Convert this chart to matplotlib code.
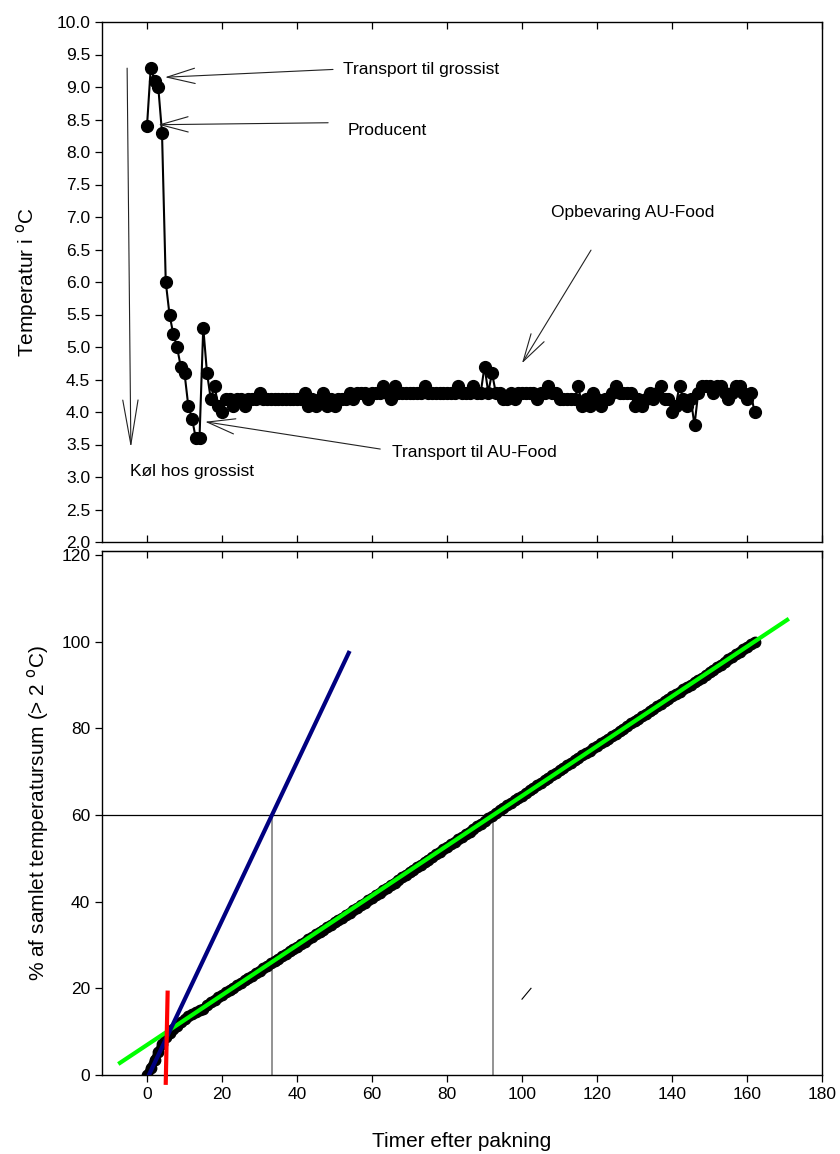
import numpy as np
import matplotlib
matplotlib.use("Agg")
import matplotlib.pyplot as plt

plt.rcParams['font.family'] = ['Liberation Sans', 'DejaVu Sans']

# ---- data ----
hours = list(range(0, 163))
temperature = [
    8.4, 9.3, 9.1, 9.0, 8.3, 6.0, 5.5, 5.2, 5.0, 4.7,
    4.6, 4.1, 3.9, 3.6, 3.6, 5.3, 4.6, 4.2, 4.4, 4.1,
    4.0, 4.2, 4.2, 4.1, 4.2, 4.2, 4.1, 4.2, 4.2, 4.2,
    4.3, 4.2, 4.2, 4.2, 4.2, 4.2, 4.2, 4.2, 4.2, 4.2,
    4.2, 4.2, 4.3, 4.1, 4.2, 4.1, 4.2, 4.3, 4.1, 4.2,
    4.1, 4.2, 4.2, 4.2, 4.3, 4.2, 4.3, 4.3, 4.3, 4.2,
    4.3, 4.3, 4.3, 4.4, 4.3, 4.2, 4.4, 4.3, 4.3, 4.3,
    4.3, 4.3, 4.3, 4.3, 4.4, 4.3, 4.3, 4.3, 4.3, 4.3,
    4.3, 4.3, 4.3, 4.4, 4.3, 4.3, 4.3, 4.4, 4.3, 4.3,
    4.7, 4.3, 4.6, 4.3, 4.3, 4.2, 4.2, 4.3, 4.2, 4.3,
    4.3, 4.3, 4.3, 4.3, 4.2, 4.3, 4.3, 4.4, 4.3, 4.3,
    4.2, 4.2, 4.2, 4.2, 4.2, 4.4, 4.1, 4.2, 4.1, 4.3,
    4.2, 4.1, 4.2, 4.2, 4.3, 4.4, 4.3, 4.3, 4.3, 4.3,
    4.1, 4.2, 4.1, 4.2, 4.3, 4.2, 4.3, 4.4, 4.2, 4.2,
    4.0, 4.1, 4.4, 4.2, 4.1, 4.2, 3.8, 4.3, 4.4, 4.4,
    4.4, 4.3, 4.4, 4.4, 4.3, 4.2, 4.3, 4.4, 4.4, 4.3,
    4.2, 4.3, 4.0,
]
base_temp = 2.0

# fitted lines in the lower panel (end points)
blue_x = [0.5, 53.8]
blue_y = [0.0, 97.4]
green_x = [-7.2, 170.7]
green_y = [2.8, 105.0]
red_x = [5.5, 5.0]
red_y = [19.0, -1.8]
ref_level = 60
ref_x = [33.3, 92.3]
slash_x = [100.0, 102.4]
slash_y = [17.5, 20.0]

top_yticks = [2.0 + 0.5 * i for i in range(17)]
xticks = list(range(0, 181, 20))
bottom_yticks = list(range(0, 121, 20))

# cumulative share of the temperature sum above 2 C
t = np.array(temperature)
excess = np.clip(t - base_temp, 0, None)
cum = np.concatenate([[0.0], np.cumsum(excess[:-1])])
cum_pct = cum / cum[-1] * 100

W, H = 840, 1154
fig = plt.figure(figsize=(W / 100, H / 100), dpi=100)

def ax_rect(l, t_, r, b):
    return [l / W, 1 - b / H, (r - l) / W, (b - t_) / H]

ax1 = fig.add_axes(ax_rect(102, 22, 822, 542))
ax2 = fig.add_axes(ax_rect(102, 551, 822, 1075))

tick_fs = 12.5
for ax in (ax1, ax2):
    ax.set_xlim(-12, 180)
    for s in ax.spines.values():
        s.set_linewidth(1.0)
    ax.tick_params(axis='both', labelsize=tick_fs, length=5, width=0.9, colors='black')

# ---- top panel ----
ax1.plot(hours, temperature, color='black', lw=1.5, marker='o', ms=8.5,
         mfc='black', mec='black', zorder=3)
ax1.set_ylim(2.0, 10.0)
ax1.set_yticks(top_yticks)
ax1.set_yticklabels([f"{v:.1f}" for v in top_yticks])
ax1.set_xticks(xticks)
ax1.tick_params(axis='x', direction='in', top=True, bottom=True, labelbottom=False)
ax1.tick_params(axis='y', direction='out')
ax1.set_ylabel('Temperatur i $^{\\mathrm{o}}$C', fontsize=15, labelpad=12)

arrow_kw = dict(arrowstyle='->,head_length=2.0,head_width=0.55', color='#222222',
                lw=0.8, shrinkA=0, shrinkB=0, mutation_scale=10)
ann_fs = 12.5
ax1.annotate('', xy=(4.8, 9.15), xytext=(49.6, 9.27), arrowprops=arrow_kw)
ax1.text(52.3, 9.27, 'Transport til grossist', fontsize=ann_fs, va='center', ha='left')
ax1.annotate('', xy=(3.0, 8.42), xytext=(48.3, 8.45), arrowprops=arrow_kw)
ax1.text(53.4, 8.33, 'Producent', fontsize=ann_fs, va='center', ha='left')
ax1.annotate('', xy=(100.0, 4.75), xytext=(118.4, 6.49), arrowprops=arrow_kw)
ax1.text(107.8, 7.07, 'Opbevaring AU-Food', fontsize=ann_fs, va='center', ha='left')
ax1.annotate('', xy=(15.5, 3.85), xytext=(62.2, 3.43), arrowprops=arrow_kw)
ax1.text(65.3, 3.38, 'Transport til AU-Food', fontsize=ann_fs, va='center', ha='left')
ax1.annotate('', xy=(-4.3, 3.45), xytext=(-5.3, 9.29),
             arrowprops=dict(arrowstyle='->,head_length=3.2,head_width=0.55', color='#222222',
                             lw=0.8, shrinkA=0, shrinkB=0, mutation_scale=10))
ax1.text(-4.6, 3.08, 'Køl hos grossist', fontsize=ann_fs, va='center', ha='left')

# ---- bottom panel ----
ax2.set_ylim(0, 120.9)
ax2.set_yticks(bottom_yticks)
ax2.set_xticks(xticks)
ax2.tick_params(axis='x', direction='out', top=False, bottom=True)
ax2.tick_params(axis='y', direction='out')
# inward ticks on the top edge of the lower panel
sec = ax2.secondary_xaxis('top')
sec.set_xticks(xticks)
sec.tick_params(direction='in', length=5, width=0.9, labeltop=False)

ax2.axhline(ref_level, color='black', lw=0.9, zorder=1)
for rx in ref_x:
    ax2.plot([rx, rx], [0, ref_level], color='#808080', lw=1.2, zorder=1)

ax2.plot(hours, cum_pct, color='black', lw=6, marker='o', ms=7.5,
         mfc='black', mec='black', solid_capstyle='round', zorder=3)
ax2.plot(green_x, green_y, color='#00ff00', lw=3, zorder=4)
ax2.plot(blue_x, blue_y, color='#000080', lw=3, zorder=4)
ax2.plot(red_x, red_y, color='#ff0000', lw=3, zorder=5, clip_on=False)
ax2.plot(slash_x, slash_y, color='black', lw=0.8, zorder=2)

ax2.set_xlabel('Timer efter pakning', fontsize=15, labelpad=22)
ax2.set_ylabel('% af samlet temperatursum (> 2 $^{\\mathrm{o}}$C)', fontsize=15, labelpad=7)

fig.savefig('out.png', dpi=100)
